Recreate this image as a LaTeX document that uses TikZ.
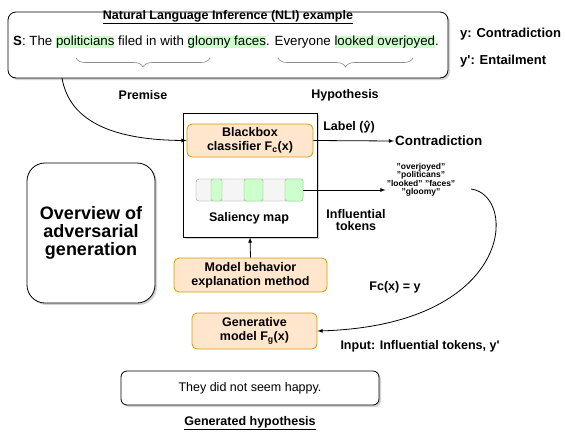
\documentclass[tikz,border=0pt]{standalone}
\usepackage{fontspec}
\setmainfont{Liberation Sans}
\usetikzlibrary{arrows,shadows,decorations.pathreplacing}

\definecolor{orfill}{HTML}{FFE6CC}
\definecolor{ordraw}{HTML}{D79B00}
\definecolor{hlgreen}{HTML}{CCFFCC}
\definecolor{grdraw}{HTML}{82B366}
\definecolor{gyfill}{HTML}{F5F5F5}
\definecolor{gydraw}{HTML}{666666}

\newcommand{\hlw}[1]{{\setlength{\fboxsep}{0pt}\colorbox{hlgreen}{\vphantom{Ay}#1}}}
\newcommand{\fs}[1]{\fontsize{#1}{#1}\selectfont}

\tikzset{
  orbox/.style={draw=ordraw,fill=orfill,rounded corners=5pt,line width=0.8pt,
    align=center,font=\bfseries\fs{12.5}\linespread{1.15}\selectfont,inner sep=1pt},
  shbox/.style={draw,fill=white,line width=0.8pt,
    drop shadow={shadow xshift=2pt,shadow yshift=-2pt,opacity=0.35}},
  lab/.style={font=\bfseries\fs{12.5},align=center,inner sep=1pt},
  conn/.style={->,line width=0.8pt},
  curlyb/.style={decorate,decoration={brace,amplitude=9pt,mirror},gydraw!75,line width=0.6pt}
}

\begin{document}
\begin{tikzpicture}[>=latex,x=1pt,y=1pt]
\useasboundingbox (0,0) rectangle (565,-432);

\node[shbox,rounded corners=8pt,minimum width=440pt,minimum height=66pt] (nli) at (228,-45) {};
\node[lab] (nlititle) at (228,-17) {\underline{Natural Language Inference (NLI) example}};
\node[font=\fs{13.3},inner sep=0pt,anchor=west] (sent) at (13,-42) {\textbf{S}: The \hlw{politicians} filed in with \hlw{gloomy faces}. Everyone \hlw{looked overjoyed}.};

\draw[curlyb] (76,-58) -- (210,-58);
\draw[curlyb] (278,-58) -- (413,-58);
\node[lab] (premise) at (143,-95) {Premise};
\node[lab] (hypo) at (345,-95) {Hypothesis};

\node[lab,anchor=west,font=\bfseries\fs{13}] (ytrue) at (459,-34) {y: Contradiction};
\node[lab,anchor=west,font=\bfseries\fs{13}] (yprime) at (459,-61) {y\textquotesingle: Entailment};

\node[shbox,minimum width=134pt,minimum height=124pt] (frame) at (250,-175) {};
\node[orbox,minimum width=126pt,minimum height=33pt] (bb) at (250,-140.5) {Blackbox\\classifier F\textsubscript{c}(x)};

\node[draw=gydraw!70,fill=gyfill,rounded corners=3pt,minimum width=107pt,minimum height=22pt,inner sep=0pt] (sal) at (249.5,-190) {};
\foreach \a/\b in {211/222,244/263,285/303}{
  \draw[draw=grdraw,fill=hlgreen,rounded corners=2pt] (\a,-179) rectangle (\b,-201);
}
\node[lab] (sallab) at (249,-218) {Saliency map};

\coordinate (nlifoot) at (62,-78);
\draw[conn] (nlifoot) .. controls (70,-125) and (120,-140) .. (bb.west);

\node[font=\bfseries\fs{13.4},inner sep=1pt,anchor=west] (contra) at (394,-141) {Contradiction};
\draw[conn] (bb.east) -- (contra.west);
\node[lab] (labhat) at (349,-127) {Label (ŷ)};

\node[font=\bfseries\fs{8.5},align=center,inner sep=1pt] (tokens) at (421,-180)
  {"overjoyed"\\"politicans"\\"looked" "faces"\\"gloomy"};
\draw[conn] (sal.east) -- (sal.east -| tokens.west);
\node[lab] (inflab) at (356,-220) {Influential\\tokens};

\node[shbox,rounded corners=18pt,minimum width=128pt,minimum height=140pt,
  font=\bfseries\fs{18},align=center] (overview) at (91,-233)
  {Overview of\\adversarial\\generation};

\node[orbox,minimum width=153pt,minimum height=34pt] (mbe) at (250.5,-275) {Model behavior\\explanation method};
\draw[conn] (mbe.north) -- (frame.south);

\node[lab] (fcx) at (395,-287) {Fc(x) = y};

\node[orbox,minimum width=125pt,minimum height=36pt] (gen) at (254.5,-331) {Generative\\model F\textsubscript{g}(x)};
\coordinate (tokfoot) at (471,-189);
\draw[conn] (tokfoot) .. controls (518,-195) and (515,-325) .. (gen.east);
\node[lab] (inputlab) at (420,-346) {Input: Influential tokens, y\textquotesingle};

\node[shbox,rounded corners=6pt,minimum width=258pt,minimum height=34pt,font=\fs{12.5}] (out) at (250,-388) {They did not seem happy.};
\node[lab] (genlab) at (250,-423) {\underline{Generated hypothesis}};

\end{tikzpicture}
\end{document}
